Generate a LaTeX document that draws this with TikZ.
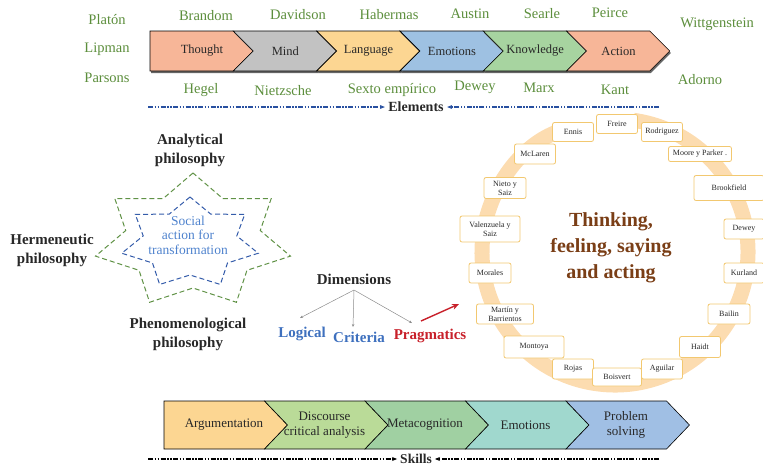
\documentclass[tikz,border=0pt]{standalone}
\usepackage{fontspec}
\setmainfont{Liberation Serif}
\usetikzlibrary{arrows.meta}
\definecolor{salmon}{RGB}{247,182,152}
\definecolor{mindgrey}{RGB}{194,194,194}
\definecolor{langorange}{RGB}{252,214,146}
\definecolor{emoblue}{RGB}{158,193,226}
\definecolor{knowgreen}{RGB}{167,212,160}
\definecolor{discgreen}{RGB}{186,219,152}
\definecolor{metagreen}{RGB}{160,208,162}
\definecolor{emoteal}{RGB}{160,216,206}
\definecolor{probblue}{RGB}{160,191,228}
\definecolor{namegreen}{RGB}{92,142,60}
\definecolor{stargreen}{RGB}{96,146,70}
\definecolor{starblue}{RGB}{52,92,170}
\definecolor{socialblue}{RGB}{78,130,205}
\definecolor{dimblue}{RGB}{62,112,190}
\definecolor{pragred}{RGB}{200,32,42}
\definecolor{ringorange}{RGB}{252,220,176}
\definecolor{boxgold}{RGB}{242,200,112}
\definecolor{thinkbrown}{RGB}{122,62,22}
\definecolor{elblue}{RGB}{40,80,160}
\definecolor{darktext}{RGB}{40,40,40}

\begin{document}
\begin{tikzpicture}[x=1pt,y=-1pt,
  gname/.style={text=namegreen,font=\fontsize{14.5}{16}\selectfont},
  chev/.style={text=darktext,font=\fontsize{12.5}{14}\selectfont,align=center},
  skill/.style={text=darktext,font=\fontsize{13}{14.5}\selectfont,align=center},
  head/.style={text=darktext,font=\bfseries\fontsize{15}{19}\selectfont,align=center},
  author/.style={draw=boxgold,fill=white,rounded corners=2pt,line width=0.8pt,inner sep=1pt,
    text=darktext,font=\fontsize{8}{9}\selectfont,align=center},
  dimline/.style={black!45,line width=0.5pt,-{Stealth[length=3pt,width=2.5pt]}},
  dashline/.style={line width=1.2pt,dash pattern=on 5pt off 1.5pt on 1.5pt off 1.5pt on 1.5pt off 1.5pt,
    -{Stealth[length=5pt,width=4pt]}},
  starline/.style={line width=1pt,dash pattern=on 5pt off 3pt}]
\useasboundingbox (0,0) rectangle (763,467);
\clip (0,0) rectangle (763,467);

\foreach \x/\y/\n/\t in {107/20/platon/Platón,206/16/brandom/Brandom,298/15/davidson/Davidson,
  389/15/habermas/Habermas,470/14/austin/Austin,542/14/searle/Searle,610/13/peirce/Peirce,
  717/24/wittgenstein/Wittgenstein,107/49/lipman/Lipman,107/78/parsons/Parsons,700/80/adorno/Adorno,
  201/90/hegel/Hegel,283/91/nietzsche/Nietzsche,392/90/sexto/Sexto empírico,475/87/dewey/Dewey,
  539/88/marx/Marx,615/90/kant/Kant}
  \node[gname] (\n) at (\x,\y) {\t};

\foreach \c/\n/\t [count=\k from 0] in {salmon/thought/Thought,mindgrey/mind/Mind,langorange/language/Language,
  emoblue/emotions/Emotions,knowgreen/knowledge/Knowledge,salmon/action/Action} {
  \pgfmathsetmacro\xa{150+83.3*\k}
  \pgfmathsetmacro\xb{\xa+83.3}
  \pgfmathsetmacro\dn{20*(\k>0)}
  \fill[black!60] (\xa+1,33) -- (\xb+1,33) -- (\xb+21,53) -- (\xb+1,73) -- (\xa+1,73) -- (\xa+\dn+1,53) -- cycle;
  \filldraw[fill=\c,draw=black,line width=0.6pt] (\xa,31) -- (\xb,31) -- (\xb+20,51) -- (\xb,71) -- (\xa,71) -- (\xa+\dn,51) -- cycle;
  \node[chev] (\n) at (\xa+52,51) {\t};
}

\node[head,font=\bfseries\fontsize{14}{16}\selectfont] (elements) at (416,107) {Elements};
\coordinate (elA) at (148,107);
\coordinate (elB) at (659,107);
\draw[dashline,elblue] (elA) -- (elements.west);
\draw[dashline,elblue] (elB) -- (elements.east);

\draw[stargreen,starline] plot[samples at={0,...,13}]
  ({193+(100-31*mod(\x,2))*cos(90+25.714*\x)},{241-(68-21*mod(\x,2))*sin(90+25.714*\x)}) -- cycle;
\draw[starblue,starline] plot[samples at={0,...,13}]
  ({190+(70-22*mod(\x,2))*cos(90+25.714*\x)},{243-(46-14*mod(\x,2))*sin(90+25.714*\x)}) -- cycle;
\node[text=socialblue,font=\fontsize{13.5}{14.5}\selectfont,align=center] (social) at (188,235) {Social\\action for\\transformation};
\node[head] (analytical) at (190,150) {Analytical\\philosophy};
\node[head] (hermeneutic) at (52,250) {Hermeneutic\\philosophy};
\node[head] (phenomenological) at (188,334) {Phenomenological\\philosophy};

\node[head] (dimensions) at (354,279) {Dimensions};
\node[head,text=dimblue] (logical) at (302,334) {Logical};
\node[head,text=dimblue] (criteria) at (359,337) {Criteria};
\node[head,text=pragred] (pragmatics) at (430,336) {Pragmatics};
\coordinate (dimtop) at (354,290);
\coordinate (lgtip) at (300,318);
\coordinate (crtip) at (353,327);
\coordinate (prtip) at (412,323);
\draw[dimline] (dimtop) -- (lgtip);
\draw[dimline] (dimtop) -- (crtip);
\draw[dimline] (dimtop) -- (prtip);
\coordinate (prstart) at (421,321);
\coordinate (ringpt) at (459,304);
\draw[pragred,line width=1.4pt,-{Stealth[length=7pt,width=6pt]}] (prstart) -- (ringpt);

\draw[ringorange,line width=15pt,-{Triangle[length=12pt,width=15pt]}] (615,252) ++(-82:133) arc[start angle=-82,end angle=248,radius=133];
\foreach \x/\y/\w/\h/\n/\t in {617/124/41/19/freire/Freire,573/132/41/19/ennis/Ennis,
  662/132/41/19/rodriguez/Rodriguez,700/154/63/15/moore/Moore y Parker .,535/154/41/20/mclaren/McLaren,
  505/188/42/21/nieto/{Nieto y\\Saiz},729/188/70/25/brookfield/Brookfield,744/229/40/20/deweyb/Dewey,
  490/229/60/26/valenzuela/{Valenzuela y\\Saiz},490/273/42/20/morales/Morales,744/273/40/20/kurland/Kurland,
  505/314/57/20/martin/{Martín y\\Barrientos},729/314/42/20/bailin/Bailin,534/347/60/22/montoya/Montoya,
  700/347/41/21/haidt/Haidt,573/369/41/20/rojas/Rojas,662/369/41/20/aguilar/Aguilar,617/377/49/18/boisvert/Boisvert}
  \node[author,minimum width=\w,minimum height=\h] (\n) at (\x,\y) {\t};
\node[text=thinkbrown,font=\bfseries\fontsize{20}{26}\selectfont,align=center] (thinking) at (611,248)
  {Thinking,\\feeling, saying\\and acting};

\foreach \c/\n/\t [count=\k from 0] in {langorange/argumentation/Argumentation,discgreen/discourse/{Discourse\\critical analysis},
  metagreen/metacognition/Metacognition,emoteal/emotionsb/Emotions,probblue/problem/{Problem\\solving}} {
  \pgfmathsetmacro\xa{164+100.5*\k}
  \pgfmathsetmacro\xb{\xa+100.5}
  \pgfmathsetmacro\dn{23*(\k>0)}
  \filldraw[fill=\c,draw=black,line width=0.6pt] (\xa,401) -- (\xb,401) -- (\xb+23,425) -- (\xb,449) -- (\xa,449) -- (\xa+\dn,425) -- cycle;
  \node[skill] (\n) at (\xa+60,425) {\t};
}

\node[head,font=\bfseries\fontsize{13.5}{15}\selectfont,inner sep=1pt] (skills) at (416,459) {Skills};
\coordinate (skA) at (148,459);
\coordinate (skB) at (659,459);
\draw[dashline,black] (skA) -- ([xshift=-2pt]skills.west);
\draw[dashline,black] (skB) -- ([xshift=2pt]skills.east);

\end{tikzpicture}
\end{document}
